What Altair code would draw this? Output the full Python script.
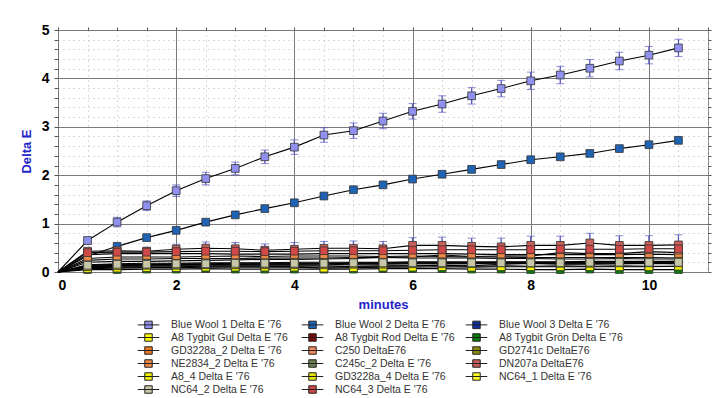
import altair as alt
import pandas as pd

minutes = [0, 0.5, 1, 1.5, 2, 2.5, 3, 3.5, 4, 4.5, 5, 5.5, 6, 6.5, 7, 7.5, 8, 8.5, 9, 9.5, 10, 10.5]

series_names = [
    "Blue Wool 1 Delta E '76", "Blue Wool 2 Delta E '76", "Blue Wool 3 Delta E '76",
    "A8 Tygbit Gul Delta E '76", "A8 Tygbit Rod Delta E '76", "A8 Tygbit Grön Delta E '76",
    "GD3228a_2 Delta E '76", "C250 DeltaE76", "GD2741c DeltaE76",
    "NE2834_2 Delta E '76", "C245c_2 Delta E '76", "DN207a DeltaE76",
    "A8_4 Delta E '76", "GD3228a_4 Delta E '76", "NC64_1 Delta E '76",
    "NC64_2 Delta E '76", "NC64_3 Delta E '76",
]

series_colors = [
    "#9090EE", "#1F64B4", "#102E9E",
    "#FFFF00", "#7A0A0A", "#0A7A0A",
    "#E87722", "#F08A5A", "#8A8A10",
    "#EE8844", "#6E7F4F", "#C8605A",
    "#F2F200", "#E6E600", "#FFFF22",
    "#C8C8A8", "#D04848",
]

bw1 = [0, 0.65, 1.03, 1.37, 1.68, 1.93, 2.14, 2.38, 2.58, 2.83, 2.92, 3.12, 3.32, 3.47, 3.64, 3.79, 3.95, 4.07, 4.21, 4.36, 4.48, 4.63]
bw2 = [0, 0.33, 0.53, 0.71, 0.86, 1.03, 1.18, 1.31, 1.43, 1.57, 1.70, 1.80, 1.92, 2.02, 2.12, 2.22, 2.32, 2.38, 2.45, 2.55, 2.63, 2.72]
bw3 = [0, 0.20, 0.22, 0.22, 0.23, 0.24, 0.25, 0.26, 0.26, 0.27, 0.28, 0.30, 0.31, 0.35, 0.32, 0.33, 0.33, 0.40, 0.38, 0.38, 0.42, 0.40]
a8_gul = [0, 0.09, 0.10, 0.10, 0.11, 0.12, 0.12, 0.12, 0.11, 0.10, 0.12, 0.12, 0.13, 0.14, 0.13, 0.16, 0.18, 0.16, 0.16, 0.17, 0.18, 0.17]
a8_rod = [0, 0.10, 0.12, 0.12, 0.13, 0.13, 0.13, 0.13, 0.13, 0.13, 0.12, 0.13, 0.13, 0.13, 0.12, 0.13, 0.12, 0.13, 0.12, 0.13, 0.12, 0.12]
a8_gron = [0, 0.05, 0.05, 0.06, 0.06, 0.07, 0.06, 0.06, 0.06, 0.06, 0.06, 0.07, 0.07, 0.07, 0.06, 0.06, 0.05, 0.05, 0.06, 0.05, 0.05, 0.05]
gd3228a_2 = [0, 0.24, 0.27, 0.27, 0.28, 0.28, 0.28, 0.29, 0.29, 0.29, 0.30, 0.30, 0.29, 0.29, 0.29, 0.28, 0.28, 0.27, 0.27, 0.28, 0.27, 0.27]
c250 = [0, 0.36, 0.38, 0.38, 0.38, 0.38, 0.37, 0.37, 0.37, 0.38, 0.38, 0.38, 0.38, 0.38, 0.37, 0.36, 0.36, 0.36, 0.36, 0.36, 0.37, 0.36]
gd2741c = [0, 0.13, 0.15, 0.15, 0.16, 0.16, 0.16, 0.16, 0.16, 0.17, 0.17, 0.17, 0.17, 0.17, 0.17, 0.17, 0.17, 0.17, 0.17, 0.17, 0.17, 0.17]
ne2834_2 = [0, 0.28, 0.31, 0.31, 0.31, 0.32, 0.33, 0.32, 0.33, 0.33, 0.33, 0.32, 0.33, 0.32, 0.31, 0.31, 0.30, 0.30, 0.30, 0.30, 0.30, 0.29]
c245c_2 = [0, 0.15, 0.17, 0.18, 0.18, 0.19, 0.19, 0.19, 0.20, 0.20, 0.20, 0.20, 0.21, 0.21, 0.21, 0.21, 0.21, 0.21, 0.22, 0.22, 0.22, 0.22]
dn207a = [0, 0.43, 0.44, 0.43, 0.47, 0.49, 0.48, 0.45, 0.47, 0.49, 0.49, 0.48, 0.55, 0.55, 0.53, 0.52, 0.55, 0.55, 0.60, 0.55, 0.55, 0.56]
a8_4 = [0, 0.07, 0.08, 0.09, 0.09, 0.10, 0.10, 0.10, 0.10, 0.08, 0.09, 0.10, 0.10, 0.11, 0.10, 0.11, 0.11, 0.11, 0.11, 0.11, 0.11, 0.12]
gd3228a_4 = [0, 0.11, 0.13, 0.14, 0.14, 0.15, 0.15, 0.15, 0.15, 0.15, 0.16, 0.16, 0.17, 0.17, 0.17, 0.19, 0.18, 0.18, 0.18, 0.19, 0.19, 0.19]
nc64_1 = [0, 0.12, 0.14, 0.15, 0.15, 0.16, 0.16, 0.17, 0.17, 0.17, 0.18, 0.18, 0.19, 0.19, 0.19, 0.20, 0.20, 0.20, 0.20, 0.21, 0.21, 0.22]
nc64_2 = [0, 0.14, 0.16, 0.16, 0.17, 0.17, 0.18, 0.18, 0.18, 0.18, 0.19, 0.19, 0.19, 0.19, 0.19, 0.19, 0.19, 0.19, 0.20, 0.20, 0.20, 0.20]
nc64_3 = [0, 0.40, 0.41, 0.41, 0.42, 0.43, 0.43, 0.42, 0.43, 0.44, 0.44, 0.44, 0.45, 0.46, 0.46, 0.46, 0.46, 0.47, 0.47, 0.47, 0.48, 0.48]

series_values = [bw1, bw2, bw3, a8_gul, a8_rod, a8_gron, gd3228a_2, c250, gd2741c,
                 ne2834_2, c245c_2, dn207a, a8_4, gd3228a_4, nc64_1, nc64_2, nc64_3]

# error bars (standard deviation) for the series that show visible bars
bw1_err = [0, 0.07, 0.10, 0.10, 0.12, 0.13, 0.13, 0.14, 0.15, 0.15, 0.16, 0.16, 0.16, 0.17, 0.17, 0.17, 0.18, 0.18, 0.18, 0.18, 0.18, 0.18]
bw2_err = [0, 0.02, 0.02, 0.02, 0.03, 0.03, 0.03, 0.03, 0.03, 0.03, 0.03, 0.03, 0.03, 0.03, 0.03, 0.03, 0.03, 0.03, 0.03, 0.03, 0.03, 0.03]
dn207a_err = [0, 0.05, 0.08, 0.08, 0.10, 0.13, 0.13, 0.13, 0.14, 0.14, 0.15, 0.15, 0.16, 0.17, 0.17, 0.18, 0.19, 0.19, 0.20, 0.20, 0.20, 0.21]
errors = {0: bw1_err, 1: bw2_err, 11: dn207a_err}

rows = []
for i, (name, vals) in enumerate(zip(series_names, series_values)):
    errs = errors.get(i, [0] * len(minutes))
    for m, v, e in zip(minutes, vals, errs):
        rows.append({"series": name, "order": i, "minutes": m, "dE": v,
                     "lo": v - e, "hi": v + e, "has_err": e > 0})
df = pd.DataFrame(rows)

x_ticks = [i * 0.5 for i in range(23)]
y_ticks = [round(i * 0.2, 1) for i in range(26)]

FONT = "Liberation Sans"

x_scale = alt.Scale(domain=[0, 11], nice=False, zero=False)
y_scale = alt.Scale(domain=[0, 5], nice=False)

x_axis = alt.Axis(
    values=x_ticks, title="minutes", ticks=False, domain=False,
    labelExpr="datum.value % 2 == 0 ? format(datum.value, 'd') : ''",
    labelFont=FONT, labelFontSize=14, labelFontWeight="bold", labelColor="#000",
    labelPadding=6, labelOverlap=False,
    titleFont=FONT, titleFontSize=13, titleFontWeight="bold", titleColor="#2424C8",
    titlePadding=6,
    grid=True,
    gridColor={"condition": {"test": "datum.value % 2 == 0", "value": "#7a7a7a"}, "value": "#b4b4b4"},
    gridDash={"condition": {"test": "datum.value % 2 == 0", "value": []}, "value": [1, 4]},
    gridWidth=1,
)
y_axis = alt.Axis(
    values=y_ticks, title="Delta E", domain=False,
    labelExpr="abs(datum.value - round(datum.value)) < 0.001 ? format(datum.value, 'd') : ''",
    labelFont=FONT, labelFontSize=14, labelFontWeight="bold", labelColor="#000",
    labelPadding=5, labelOverlap=False,
    ticks=True, tickSize=4, tickColor="#555",
    titleFont=FONT, titleFontSize=13, titleFontWeight="bold", titleColor="#2424C8",
    titlePadding=8,
    grid=True,
    gridColor={"condition": {"test": "abs(datum.value - round(datum.value)) < 0.001", "value": "#7a7a7a"}, "value": "#b4b4b4"},
    gridDash={"condition": {"test": "abs(datum.value - round(datum.value)) < 0.001", "value": []}, "value": [1, 4]},
    gridWidth=1,
)

base = alt.Chart(df)

lines = base.mark_line(color="#000", strokeWidth=1.1).encode(
    x=alt.X("minutes:Q", scale=x_scale, axis=x_axis),
    y=alt.Y("dE:Q", scale=y_scale, axis=y_axis),
    detail="series:N",
    order="minutes:Q",
)

err = base.transform_filter("datum.has_err").mark_errorbar(
    ticks={"size": 8, "strokeWidth": 1.3}, rule={"strokeWidth": 1.3}, color="#5858C0"
).encode(
    x=alt.X("minutes:Q", scale=x_scale, axis=None),
    y=alt.Y("lo:Q", scale=y_scale, axis=None),
    y2="hi:Q",
)

legend = alt.Legend(
    title=None, orient="none", legendX=84, legendY=288, columns=3, direction="horizontal",
    columnPadding=4, rowPadding=0, gridAlign="all",
    symbolType="M-1.8,0H1.8M-0.62,-0.62H0.62V0.62H-0.62Z",
    symbolSize=144, symbolStrokeColor="#222", symbolStrokeWidth=1,
    labelFont=FONT, labelFontSize=10.5, labelColor="#333", labelOffset=16,
    labelLimit=200,
)

points = base.transform_filter("datum.minutes > 0").mark_point(
    shape="square", filled=True, size=60, stroke="#333", strokeWidth=0.8, opacity=1
).encode(
    x=alt.X("minutes:Q", scale=x_scale, axis=None),
    y=alt.Y("dE:Q", scale=y_scale, axis=None),
    fill=alt.Fill("series:N", scale=alt.Scale(domain=series_names, range=series_colors), legend=legend),
    order="order:Q",
)

frame_axes = base.mark_point(opacity=0).encode(
    x=alt.X("minutes:Q", scale=x_scale, axis=alt.Axis(orient="top", values=x_ticks, labels=False, title=None,
                                                        grid=False, domain=False, tickSize=3, tickColor="#555")),
    y=alt.Y("dE:Q", scale=y_scale, axis=alt.Axis(orient="right", values=y_ticks, labels=False, title=None,
                                                  grid=False, domain=False, tickSize=3, tickColor="#555")),
)

chart = alt.layer(lines, err, points, frame_axes).resolve_axis(
    x="independent", y="independent"
).properties(
    width=650, height=242,
    autosize=alt.AutoSizeParams(type="none"),
    padding={"left": 50, "top": 22, "right": 10, "bottom": 124},
    background="white",
).configure_view(stroke="#808080", strokeWidth=1)

chart.save("out.html", embed_options={"renderer": "svg", "actions": False})
